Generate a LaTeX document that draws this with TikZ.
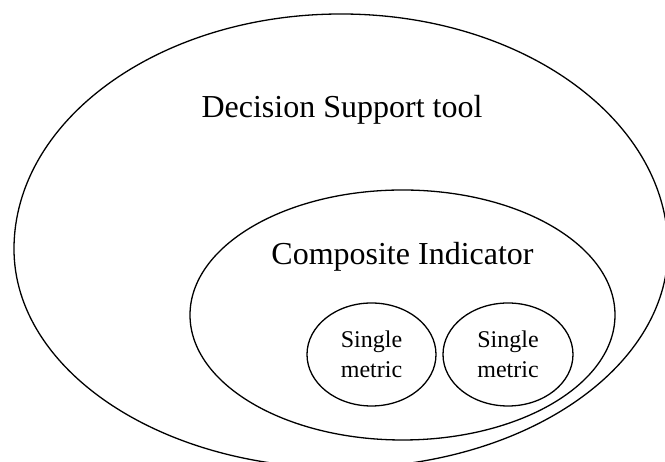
\documentclass[tikz,border=0pt]{standalone}
\usepackage{fontspec}
\setmainfont{Liberation Serif}
\usetikzlibrary{shapes.geometric}
\begin{document}
\begin{tikzpicture}[x=1pt,y=1pt,
  outline/.style={line width=1.3pt, draw=black},
  setshape/.style={ellipse, outline, inner sep=0pt},
  bigtext/.style={font=\fontsize{32}{38}\selectfont, anchor=base, inner sep=0pt},
  smalltext/.style={font=\fontsize{24}{30}\selectfont, align=center}]
\useasboundingbox (0,0) rectangle (665,462);
\clip (0,0) rectangle (665,462);
% outer set: Decision Support tool
\draw[outline] (14,213) arc[start angle=180, end angle=0, x radius=327pt, y radius=235pt]
  arc[start angle=0, end angle=-180, x radius=327pt, y radius=219pt] -- cycle;
\node[bigtext] (dst) at (342,344) {Decision Support tool};
% composite indicator
\node[setshape, minimum width=425pt, minimum height=250pt] (ci) at (402.5,147) {};
\node[bigtext] (citext) at (402.5,197) {Composite Indicator};
% single metrics
\node[setshape, smalltext, minimum width=129pt, minimum height=103pt] (m1) at (371.5,107.5) {Single\\metric};
\node[setshape, smalltext, minimum width=130pt, minimum height=103pt] (m2) at (508,107.5) {Single\\metric};
\end{tikzpicture}
\end{document}
